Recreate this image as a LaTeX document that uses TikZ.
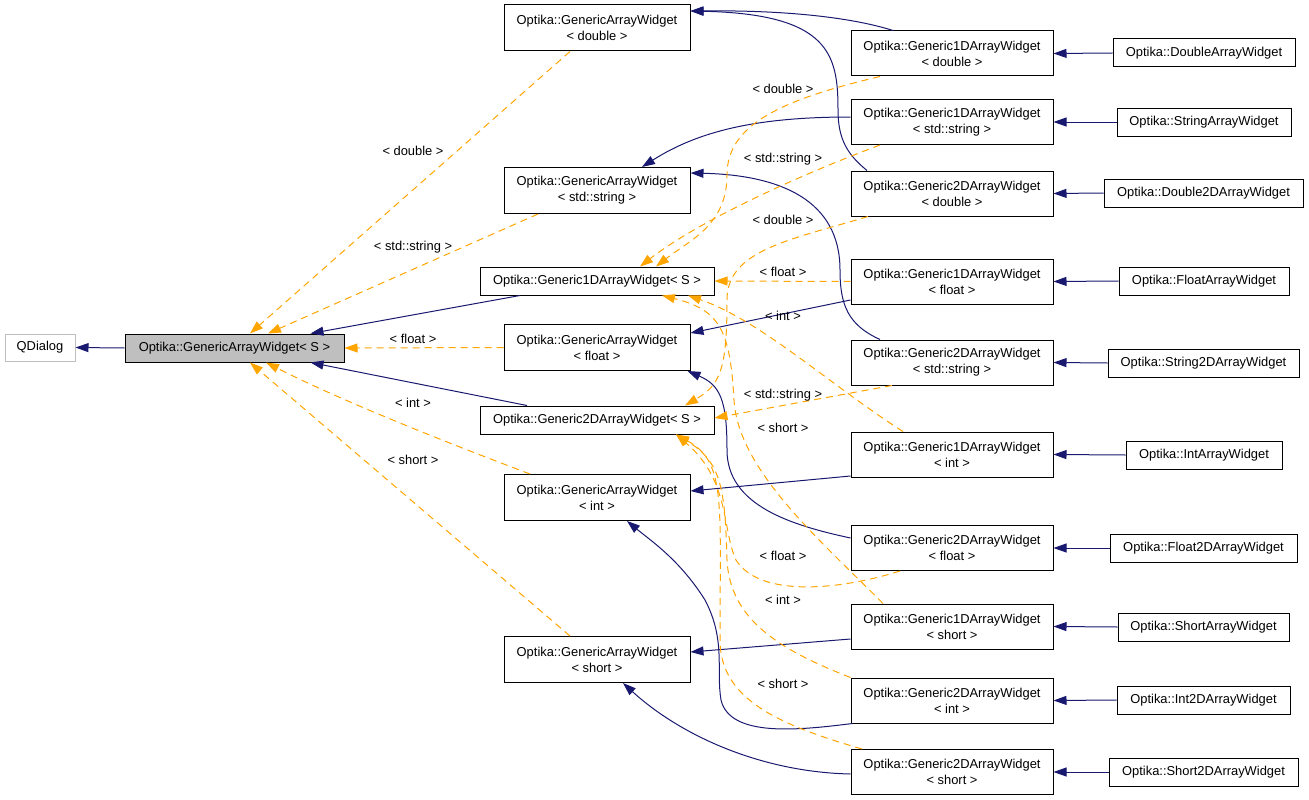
\documentclass[tikz,border=0pt]{standalone}
\usepackage{fontspec}
\setmainfont{Liberation Sans}
\usetikzlibrary{arrows.meta}
\definecolor{navyedge}{HTML}{191970}
\definecolor{tmplorange}{HTML}{FFA500}
\definecolor{basegray}{HTML}{BFBFBF}
\begin{document}
\begin{tikzpicture}[x=1pt,y=-1pt,
  every node/.style={font=\fontsize{12.9}{16}\selectfont},
  cls/.style={draw=black, line width=1pt, inner sep=0pt, align=center},
  twoline/.style={cls, minimum width=186pt, minimum height=46pt},
  rcol/.style={cls, minimum width=202pt, minimum height=45pt},
  leaf/.style={cls, minimum height=28pt},
  inh/.style={draw=navyedge, line width=1pt, -{Triangle[length=13pt,width=9pt]}},
  tmpl/.style={draw=tmplorange, line width=1pt, dash pattern=on 7pt off 5pt, -{Triangle[length=13pt,width=9pt]}},
  lbl/.style={inner sep=1pt}]
\useasboundingbox (0,0) rectangle (1309,800);

% nodes
\node[cls, minimum width=70pt, minimum height=27pt, draw=basegray] (qd) at (40,347.5) {QDialog};
\node[cls, minimum width=219pt, minimum height=28pt, fill=basegray] (base) at (234.5,348) {Optika::GenericArrayWidget< S >};

\node[twoline] (gd) at (597,28) {Optika::GenericArrayWidget\\< double >};
\node[twoline] (gs) at (597,190.5) {Optika::GenericArrayWidget\\< std::string >};
\node[leaf, minimum width=234pt] (g1) at (597,281) {Optika::Generic1DArrayWidget< S >};
\node[twoline] (gf) at (597,347.5) {Optika::GenericArrayWidget\\< float >};
\node[leaf, minimum width=234pt] (g2) at (597,420) {Optika::Generic2DArrayWidget< S >};
\node[twoline] (gi) at (597,497.5) {Optika::GenericArrayWidget\\< int >};
\node[twoline] (gsh) at (597,659.5) {Optika::GenericArrayWidget\\< short >};

\node[rcol] (d1d) at (952,53.5) {Optika::Generic1DArrayWidget\\< double >};
\node[rcol] (d1s) at (952,122) {Optika::Generic1DArrayWidget\\< std::string >};
\node[rcol] (d2d) at (952,193.5) {Optika::Generic2DArrayWidget\\< double >};
\node[rcol] (d1f) at (952,281.5) {Optika::Generic1DArrayWidget\\< float >};
\node[rcol] (d2s) at (952,362.5) {Optika::Generic2DArrayWidget\\< std::string >};
\node[rcol] (d1i) at (952,454.5) {Optika::Generic1DArrayWidget\\< int >};
\node[rcol] (d2f) at (952,548) {Optika::Generic2DArrayWidget\\< float >};
\node[rcol] (d1sh) at (952,626.5) {Optika::Generic1DArrayWidget\\< short >};
\node[rcol] (d2i) at (952,700.5) {Optika::Generic2DArrayWidget\\< int >};
\node[rcol] (d2sh) at (952,772) {Optika::Generic2DArrayWidget\\< short >};

\node[leaf, minimum width=182pt] (wd) at (1204,53) {Optika::DoubleArrayWidget};
\node[leaf, minimum width=174pt] (ws) at (1204,122) {Optika::StringArrayWidget};
\node[leaf, minimum width=199pt] (wd2) at (1203.5,193) {Optika::Double2DArrayWidget};
\node[leaf, minimum width=170pt] (wf) at (1204,281) {Optika::FloatArrayWidget};
\node[leaf, minimum width=191pt] (ws2) at (1203.5,363) {Optika::String2DArrayWidget};
\node[leaf, minimum width=156pt] (wi) at (1204,455) {Optika::IntArrayWidget};
\node[leaf, minimum width=187pt] (wf2) at (1203.5,548) {Optika::Float2DArrayWidget};
\node[leaf, minimum width=171pt] (wsh) at (1203.5,627) {Optika::ShortArrayWidget};
\node[leaf, minimum width=173pt] (wi2) at (1203.5,700) {Optika::Int2DArrayWidget};
\node[leaf, minimum width=189pt] (wsh2) at (1203.5,772) {Optika::Short2DArrayWidget};

% inheritance edges (blue)
\draw[inh] (base.west) -- (qd.east);
\draw[inh] ([xshift=-77pt]g1.south) -- ([xshift=76pt]base.north);
\draw[inh] ([xshift=-70pt]g2.north) -- ([xshift=76pt]base.south);
\draw[inh] ([xshift=-59pt]d1d.north) .. controls (860,20) and (800,10) .. ([yshift=17pt]gd.east);
\draw[inh] ([xshift=-85pt]d2d.north) .. controls (848,155) and (838,140) .. (838,110)
  .. controls (838,55) and (830,14) .. ([yshift=17pt]gd.east);
\draw[inh] ([yshift=5pt]d1s.west) .. controls (760,117) and (700,130) .. ([xshift=45pt]gs.north);
\draw[inh] ([xshift=-72pt]d2s.north) .. controls (848,325) and (840,305) .. (840,270)
  .. controls (840,200) and (780,175) .. ([yshift=17.5pt]gs.east);
\draw[inh] ([yshift=-18.5pt]d1f.west) -- ([yshift=14.5pt]gf.east);
\draw[inh] ([yshift=10pt]d2f.west) .. controls (790,525) and (727,505) .. (727,450)
  .. controls (727,400) and (720,385) .. ([xshift=-3pt]gf.south east);
\draw[inh] ([yshift=-21.5pt]d1i.west) -- ([yshift=6.5pt]gi.east);
\draw[inh] ([xshift=2pt]d2i.south west) .. controls (800,730) and (730,738) .. (721,700)
  .. controls (716,670) and (726,640) .. (705,600) .. controls (680,560) and (650,540) .. ([xshift=30pt]gi.south);
\draw[inh] ([yshift=-12.5pt]d1sh.west) -- ([yshift=7.5pt]gsh.east);
\draw[inh] ([yshift=-2pt]d2sh.west) .. controls (760,772) and (680,735) .. ([xshift=26pt]gsh.south);

\draw[inh] (wd.west) -- (d1d.east);
\draw[inh] (ws.west) -- (d1s.east);
\draw[inh] (wd2.west) -- (d2d.east);
\draw[inh] (wf.west) -- (d1f.east);
\draw[inh] (ws2.west) -- (d2s.east);
\draw[inh] (wi.west) -- (d1i.east);
\draw[inh] (wf2.west) -- (d2f.east);
\draw[inh] (wsh.west) -- (d1sh.east);
\draw[inh] (wi2.west) -- (d2i.east);
\draw[inh] (wsh2.west) -- (d2sh.east);

% template instantiation edges (orange dashed)
\draw[tmpl] ([xshift=-27pt]gd.south) -- ([xshift=15.5pt]base.north);
\draw[tmpl] ([xshift=-59pt]gs.south) -- ([xshift=33.5pt]base.north);
\draw[tmpl] (gf.west) -- (base.east);
\draw[tmpl] ([xshift=-67pt]gi.north) .. controls (440,440) and (340,400) .. ([xshift=31.5pt]base.south);
\draw[tmpl] ([xshift=-27pt]gsh.north) -- ([xshift=15.5pt]base.south);

\draw[tmpl] ([xshift=-72pt]d1d.south) .. controls (780,100) and (727,125) .. (727,175)
  .. controls (727,225) and (690,240) .. ([xshift=59pt]g1.north);
\draw[tmpl] ([xshift=-72pt]d1s.south) .. controls (800,175) and (700,220) .. ([xshift=43pt]g1.north);
\draw[tmpl] (d1f.west) -- (g1.east);
\draw[tmpl] ([xshift=-49pt]d1i.north) .. controls (830,385) and (760,320) .. ([xshift=91pt]g1.south);
\draw[tmpl] ([xshift=-69pt]d1sh.north) .. controls (820,540) and (738,470) .. (734,400)
  .. controls (730,330) and (720,310) .. ([xshift=65pt]g1.south);

\draw[tmpl] ([xshift=-84pt]d2d.south) .. controls (790,240) and (727,250) .. (727,300)
  .. controls (727,370) and (720,385) .. ([xshift=88pt]g2.north);
\draw[tmpl] ([xshift=-60pt]d2s.south) -- ([yshift=2pt]g2.east);
\draw[tmpl] ([xshift=-52pt]d2f.south) .. controls (840,590) and (760,598) .. (736,560)
  .. controls (722,530) and (730,480) .. ([xshift=79pt]g2.south);
\draw[tmpl] (d2i.north west) .. controls (780,650) and (730,620) .. (727,560)
  .. controls (725,490) and (722,462) .. ([xshift=79pt]g2.south);
\draw[tmpl] ([xshift=-90pt]d2sh.north) .. controls (780,725) and (720,700) .. (720,640)
  .. controls (720,500) and (726,462) .. ([xshift=79pt]g2.south);

% labels
\node[lbl] (l1) at (413,151) {< double >};
\node[lbl] (l2) at (413,247) {< std::string >};
\node[lbl] (l3) at (413,339) {< float >};
\node[lbl] (l4) at (413,403) {< int >};
\node[lbl] (l5) at (413,460) {< short >};
\node[lbl] (r1) at (783,89) {< double >};
\node[lbl] (r2) at (783,159) {< std::string >};
\node[lbl] (r3) at (783,220) {< double >};
\node[lbl] (r4) at (783,272) {< float >};
\node[lbl] (r5) at (783,316) {< int >};
\node[lbl] (r6) at (783,395) {< std::string >};
\node[lbl] (r7) at (783,428) {< short >};
\node[lbl] (r8) at (783,556) {< float >};
\node[lbl] (r9) at (783,600) {< int >};
\node[lbl] (r10) at (783,684) {< short >};
\end{tikzpicture}
\end{document}
